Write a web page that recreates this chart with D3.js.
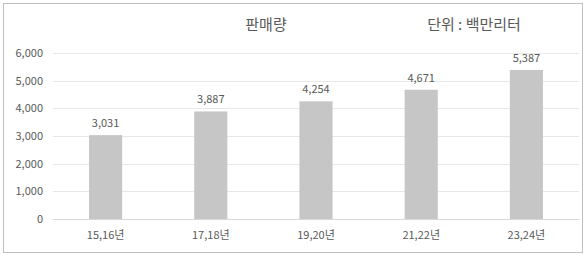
<!DOCTYPE html>
<html>
<head>
<meta charset="utf-8">
<script src="https://cdn.jsdelivr.net/npm/d3@7"></script>
<style>
  body { margin: 0; background: #fff; }
  text { font-family: "Noto Sans CJK KR", "Noto Sans", sans-serif; fill: #595959; }
</style>
</head>
<body>
<svg id="chart" width="587" height="256"></svg>
<script>
var categories = ["15,16년", "17,18년", "19,20년", "21,22년", "23,24년"];
var sales = [3031, 3887, 4254, 4671, 5387];
var yTicks = [0, 1000, 2000, 3000, 4000, 5000, 6000];

var svg = d3.select("#chart");

// outer frame
svg.append("rect")
  .attr("x", 3.5).attr("y", 3.5)
  .attr("width", 579).attr("height", 249)
  .attr("fill", "#fff")
  .attr("stroke", "#bfbfbf");

var plotLeft = 53, plotRight = 579, plotTop = 53, plotBottom = 219;

var x = d3.scaleBand().domain(categories).range([plotLeft, plotRight]).paddingInner(0.685).paddingOuter(0.3425);
var y = d3.scaleLinear().domain([0, 6000]).range([plotBottom, plotTop]);

// gridlines
svg.append("g").selectAll("line")
  .data(yTicks)
  .join("line")
  .attr("x1", plotLeft).attr("x2", plotRight)
  .attr("y1", d => Math.round(y(d)) + 0.5)
  .attr("y2", d => Math.round(y(d)) + 0.5)
  .attr("stroke", d => d === 0 ? "#d9d9d9" : "#e8e8e8");

// y axis labels
var yAxis = svg.append("g")
  .attr("transform", "translate(" + (plotLeft - 10) + ",0)")
  .call(d3.axisLeft(y).tickValues(yTicks).tickFormat(d3.format(",")).tickSize(0).tickPadding(0));
yAxis.select(".domain").remove();
yAxis.selectAll("text").style("font-size", "11px").attr("fill", "#595959");

// bars
svg.append("g").selectAll("rect")
  .data(sales)
  .join("rect")
  .attr("x", (d, i) => x(categories[i]))
  .attr("y", d => y(d))
  .attr("width", x.bandwidth())
  .attr("height", d => y(0) - y(d))
  .attr("fill", "#c6c6c6");

// value labels
svg.append("g").selectAll("text")
  .data(sales)
  .join("text")
  .attr("x", (d, i) => x(categories[i]) + x.bandwidth() / 2)
  .attr("y", d => y(d) - 8)
  .attr("text-anchor", "middle")
  .style("font-size", "11px")
  .text(d => d3.format(",")(d));

// x axis labels
var xAxis = svg.append("g")
  .attr("transform", "translate(0," + (plotBottom + 12) + ")")
  .call(d3.axisBottom(x).tickSize(0).tickPadding(0));
xAxis.select(".domain").remove();
xAxis.selectAll("text").style("font-size", "11px").attr("fill", "#595959");

// titles
svg.append("text")
  .attr("x", 266).attr("y", 30)
  .attr("text-anchor", "middle")
  .style("font-size", "15px")
  .text("판매량");

svg.append("text")
  .attr("x", 474).attr("y", 30)
  .attr("text-anchor", "middle")
  .style("font-size", "15px")
  .text("단위 : 백만리터");
</script>
</body>
</html>
